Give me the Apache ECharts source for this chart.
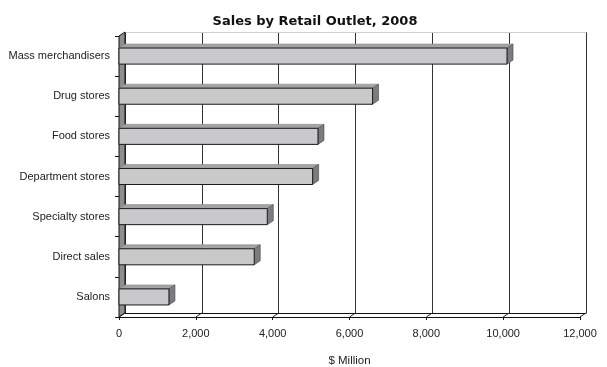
<!DOCTYPE html>
<html>
<head>
<meta charset="utf-8">
<script src="https://cdn.jsdelivr.net/npm/echarts@6/dist/echarts.min.js"></script>
<style>
html,body{margin:0;padding:0;background:#fff;}
#chart{width:607px;height:367px;}
</style>
</head>
<body>
<div id="chart"></div>
<script>
const titleText = 'Sales by Retail Outlet, 2008';
const categories = ['Mass merchandisers','Drug stores','Food stores','Department stores','Specialty stores','Direct sales','Salons'];
const sales = [10100, 6600, 5180, 5040, 3860, 3520, 1300];
const xTicks = [0, 2000, 4000, 6000, 8000, 10000, 12000];
const xTickLabels = ['0','2,000','4,000','6,000','8,000','10,000','12,000'];
const xAxisName = '$ Million';

const DX = 6, DY = 4;
const labelFont = '"Liberation Sans Narrow", "Liberation Sans", Arial, sans-serif';

const chart = echarts.init(document.getElementById('chart'), null, {renderer:'canvas'});

function renderBar(params, api) {
  const v = api.value(0), c = api.value(1);
  const p0 = api.coord([0, c]);
  const p1 = api.coord([v, c]);
  const band = api.size([0, 1])[1];
  const h = band * 0.4;
  const x0 = p0[0], x1 = p1[0];
  const yT = p0[1] - h / 2, yB = p0[1] + h / 2;
  return {
    type: 'group',
    children: [
      {type:'polygon', shape:{points:[[x0,yT],[x0+DX,yT-DY],[x1+DX,yT-DY],[x1,yT]]},
        style:{fill:'#a4a4a6', stroke:'#8a8a8a', lineWidth:0.6}},
      {type:'polygon', shape:{points:[[x1,yT],[x1+DX,yT-DY],[x1+DX,yB-DY],[x1,yB]]},
        style:{fill:'#7c7c7e', stroke:'#444', lineWidth:0.6}},
      {type:'rect', shape:{x:x0, y:yT, width:x1-x0, height:h},
        style:{fill:'#c9c9cc', stroke:'#1a1a1a', lineWidth:1}}
    ]
  };
}

function renderWall(params, api) {
  const n = categories.length;
  const band = api.size([0, 1])[1];
  const top = api.coord([0, 0]);
  const bot = api.coord([0, n - 1]);
  const x = top[0];
  const yT = top[1] - band / 2, yB = bot[1] + band / 2;
  return {
    type:'polygon',
    shape:{points:[[x,yT],[x+DX,yT-DY],[x+DX,yB-DY],[x,yB]]},
    style:{fill:'#8e8e90', stroke:'#111', lineWidth:1}
  };
}

function renderFloorTick(params, api) {
  const n = categories.length;
  const band = api.size([0, 1])[1];
  const p = api.coord([api.value(0), n - 1]);
  const yB = p[1] + band / 2;
  return {
    type:'line',
    shape:{x1:p[0], y1:yB, x2:p[0]+DX, y2:yB-DY},
    style:{stroke:'#222', lineWidth:1}
  };
}

const option = {
  backgroundColor:'#fff',
  animation:false,
  title:{
    text:titleText, left:310, top:10, textAlign:'center',
    textStyle:{fontFamily:'"DejaVu Sans", Verdana, sans-serif', fontWeight:'bold', fontSize:13, color:'#111'}
  },
  grid:[
    {left:119, right:27, top:36, bottom:50, outerBoundsMode:'none', containLabel:false},
    {left:119+DX, right:27-DX, top:36-DY, bottom:50+DY, outerBoundsMode:'none', containLabel:false}
  ],
  xAxis:[
    {type:'value', gridIndex:0, min:0, max:12000, interval:2000,
     axisLine:{show:true, lineStyle:{color:'#111', width:1}},
     axisTick:{show:true, length:3, lineStyle:{color:'#111'}},
     splitLine:{show:false},
     axisLabel:{margin:11, color:'#222', fontSize:11, fontFamily:labelFont,
       formatter:function(v){const i = xTicks.indexOf(v); return i>=0 ? xTickLabels[i] : '';}},
     name:xAxisName, nameLocation:'middle', nameGap:38,
     nameTextStyle:{color:'#222', fontSize:11.5, fontFamily:'"Liberation Sans", Arial, sans-serif'}
    },
    {type:'value', gridIndex:1, min:0, max:12000, interval:2000,
     axisLine:{show:true, lineStyle:{color:'#111', width:1}},
     axisTick:{show:false}, axisLabel:{show:false},
     splitLine:{show:true, lineStyle:{color:'#333', width:1}}
    },
    {type:'value', gridIndex:1, min:0, max:12000, interval:2000, position:'top',
     axisLine:{show:true, lineStyle:{color:'#cfcfcf', width:1}},
     axisTick:{show:false}, axisLabel:{show:false}, splitLine:{show:false}
    }
  ],
  yAxis:[
    {type:'category', gridIndex:0, data:categories, inverse:true,
     axisLine:{show:false},
     axisTick:{show:true, length:4, lineStyle:{color:'#111'}},
     axisLabel:{margin:9, color:'#222', fontSize:11, fontFamily:labelFont},
     splitLine:{show:false}
    },
    {type:'category', gridIndex:1, data:categories, inverse:true,
     axisLine:{show:false}, axisTick:{show:false}, axisLabel:{show:false}, splitLine:{show:false}
    }
  ],
  series:[
    {type:'custom', name:'wall', xAxisIndex:0, yAxisIndex:0, z:3,
     renderItem:renderWall, data:[[0,0]], silent:true},
    {type:'custom', name:'floorTicks', xAxisIndex:0, yAxisIndex:0, z:3,
     renderItem:renderFloorTick, data:xTicks.map(t=>[t,0]), silent:true},
    {type:'custom', name:'Sales', xAxisIndex:0, yAxisIndex:0, z:5,
     renderItem:renderBar, encode:{x:0, y:1},
     data:sales.map((v,i)=>[v,i])}
  ]
};
chart.setOption(option);
</script>
</body>
</html>
